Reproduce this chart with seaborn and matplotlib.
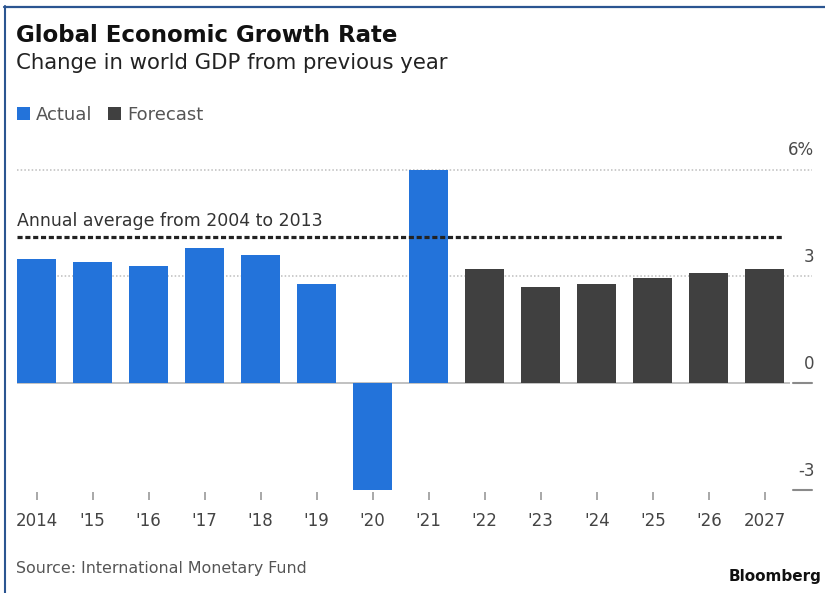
import matplotlib
matplotlib.use("Agg")
import matplotlib.pyplot as plt
import matplotlib.transforms as mtransforms
from matplotlib.lines import Line2D
import pandas as pd
import seaborn as sns

# World GDP growth, % change from previous year (IMF)
YEARS = ["2014", "'15", "'16", "'17", "'18", "'19", "'20",
         "'21", "'22", "'23", "'24", "'25", "'26", "2027"]
GROWTH = [3.5, 3.4, 3.3, 3.8, 3.6, 2.8, -3.0,
          6.0, 3.2, 2.7, 2.8, 2.95, 3.1, 3.2]
STATUS = ["Actual"] * 8 + ["Forecast"] * 6
SERIES = ["Actual", "Forecast"]
AVERAGE_2004_2013 = 4.1
Y_TICKS = [6, 3, 0, -3]
Y_LABELS = ["6%", "3", "0", "-3"]

BLUE = "#2373da"
DARK = "#404040"
GRID = "#bdbdbd"
FRAME = "#2b5591"

W, H = 825, 593

sns.set_theme(style="white")
plt.rcParams["font.family"] = ["DejaVu Sans"]

fig = plt.figure(figsize=(W / 100, H / 100), dpi=100)
fig.patch.set_facecolor("white")


def fx(px):
    return px / W


def fy(py):
    return 1 - py / H


# plotting area in pixel terms: left 17, right 790, top 159, bottom 500
ax = fig.add_axes([fx(17), fy(500), fx(790) - fx(17), fy(159) - fy(500)])
ax.set_facecolor("white")

df = pd.DataFrame({"year": YEARS, "growth": GROWTH, "status": STATUS})
sns.barplot(data=df, x="year", y="growth", hue="status", order=YEARS,
            hue_order=SERIES, palette={"Actual": BLUE, "Forecast": DARK},
            width=0.7, saturation=1, dodge=False, linewidth=0,
            zorder=2, ax=ax)

ax.set_xlim(-0.35, len(YEARS) - 1 + 0.45)
ax.set_ylim(-3.28, 6.30)

for side in ax.spines.values():
    side.set_visible(False)
ax.set_xlabel("")
ax.set_ylabel("")
ax.set_yticks([])
ax.tick_params(axis="x", bottom=True, direction="in", length=5.5, width=1.2,
               color="#9a9a9a", pad=9, labelsize=12, labelcolor="#444444")

# horizontal reference lines and right-hand scale
right = mtransforms.blended_transform_factory(ax.transAxes, ax.transData)
for v, lab in zip(Y_TICKS, Y_LABELS):
    if v > 0:
        ax.axhline(v, color=GRID, lw=1.1, ls=(0, (1, 1.4)), zorder=1)
        ax.plot([1.0045, 1.0285], [v, v], transform=right, clip_on=False,
                color=GRID, lw=1.1, ls=(0, (1, 1.4)))
    else:
        if v == 0:
            ax.axhline(v, color="#b0b0b0", lw=1.1, zorder=1)
        ax.plot([1.0045, 1.0285], [v, v], transform=right, clip_on=False,
                color="#8a8a8a", lw=1.5)
    ax.annotate(lab, xy=(1, v), xycoords=right, xytext=(17.5, 10.4),
                textcoords="offset points", ha="right", va="baseline",
                fontsize=12, color="#4a4a4a", annotation_clip=False)

# ten-year average line with its label
ax.hlines(AVERAGE_2004_2013, -0.35, len(YEARS) - 1 + 0.35, colors="#222222",
          lw=2.3, linestyles=(0, (1.6, 0.85)), zorder=3)
ax.annotate("Annual average from 2004 to 2013", xy=(-0.35, AVERAGE_2004_2013),
            xytext=(0, 7.8), textcoords="offset points", ha="left",
            va="baseline", fontsize=12.5, color="#333333")

# legend above the plot
handles, labels = ax.get_legend_handles_labels()
if ax.get_legend() is not None:
    ax.get_legend().remove()
fig.legend(handles, labels, loc="upper left",
           bbox_to_anchor=(fx(17), fy(106)), bbox_transform=fig.transFigure,
           ncol=2, frameon=False, fontsize=13, labelcolor="#555555",
           handlelength=0.72, handleheight=0.72, handletextpad=0.35,
           columnspacing=0.85, borderpad=0, borderaxespad=0)

# headings and footer
fig.text(fx(16), fy(41.5), "Global Economic Growth Rate", fontsize=16.5,
         fontweight="bold", color="#111111", va="baseline")
fig.text(fx(16), fy(69), "Change in world GDP from previous year",
         fontsize=15.3, color="#222222", va="baseline")
fig.text(fx(16), fy(573), "Source: International Monetary Fund",
         fontsize=11.4, color="#555555", va="baseline")
fig.text(fx(822), fy(581), "Bloomberg", fontsize=11, fontweight="bold",
         color="#111111", ha="right", va="baseline")

# frame along the top and left edges
fig.add_artist(Line2D([fx(4), 1], [fy(6.5), fy(6.5)],
                      transform=fig.transFigure, color=FRAME, lw=1.6))
fig.add_artist(Line2D([fx(4.8), fx(4.8)], [fy(6), 0],
                      transform=fig.transFigure, color=FRAME, lw=1.5))

fig.savefig("out.png", dpi=100, facecolor="white")
